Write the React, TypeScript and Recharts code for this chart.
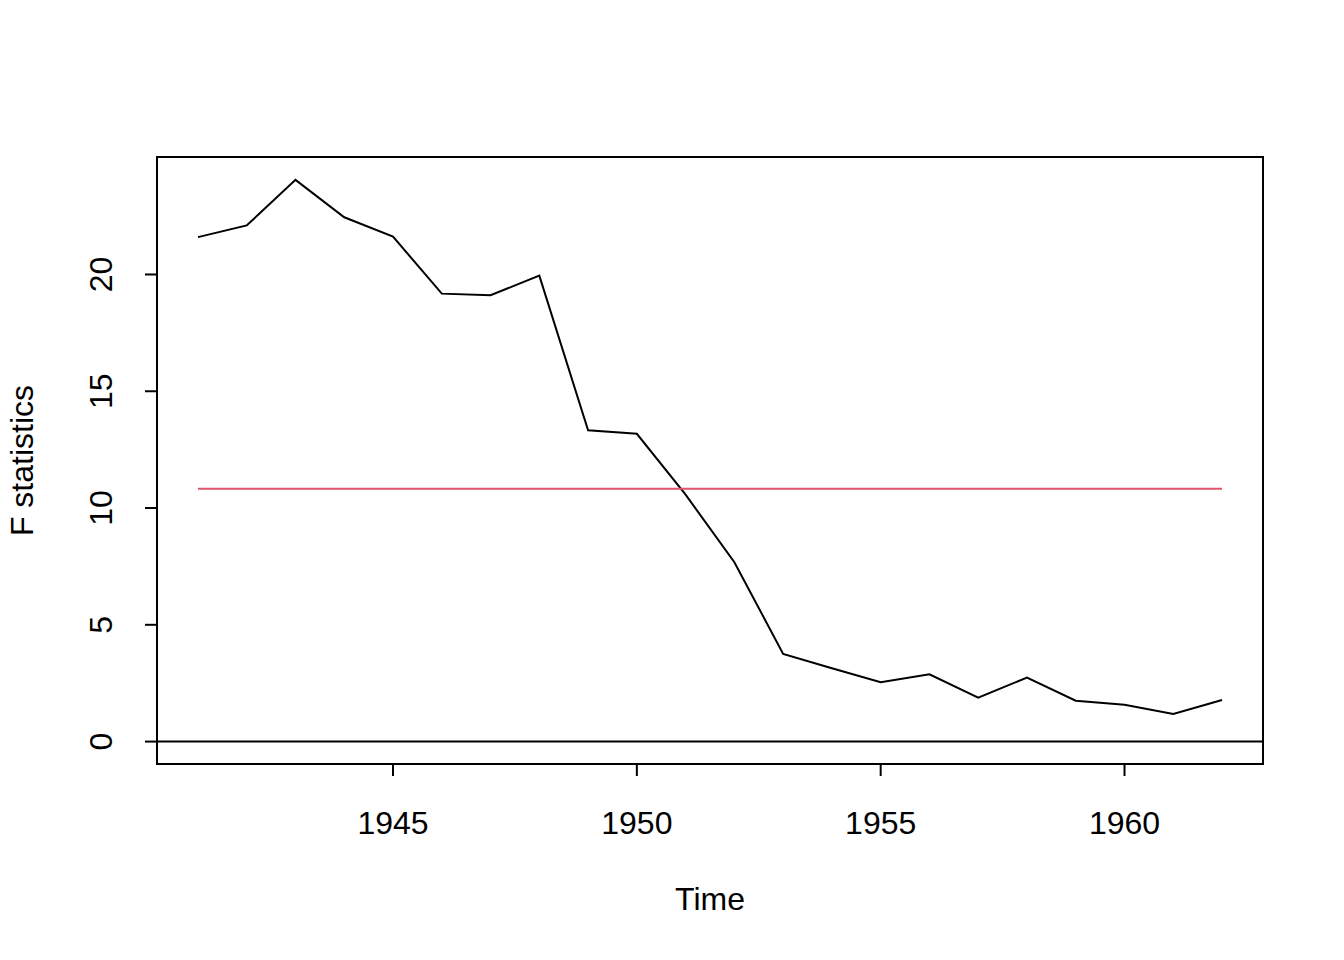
import React from "react";
import {
  LineChart,
  Line,
  XAxis,
  YAxis,
  ReferenceLine,
  ReferenceArea,
} from "recharts";

// F statistics by year
const years = [
  1941, 1942, 1943, 1944, 1945, 1946, 1947, 1948, 1949, 1950, 1951, 1952,
  1953, 1954, 1955, 1956, 1957, 1958, 1959, 1960, 1961, 1962,
];
const fStats = [
  21.6, 22.1, 24.05, 22.45, 21.62, 19.18, 19.11, 19.95, 13.33, 13.18, 10.57,
  7.68, 3.75, 3.14, 2.54, 2.88, 1.88, 2.74, 1.75, 1.58, 1.18, 1.78,
];
const critValue = 10.83;

const xTicks = [1945, 1950, 1955, 1960];
const yTicks = [0, 5, 10, 15, 20];
const xDomain = [1940.16, 1962.84];
const yDomain = [-0.96, 25.03];

const data = years.map((year, i) => ({
  year,
  f: fStats[i],
  crit: critValue,
}));

const FONT = '"Liberation Sans", Arial, Helvetica, sans-serif';
const FS = 32;

const YTick = ({ x, y, payload }: any) => (
  <text
    x={x}
    y={y}
    transform={`rotate(-90, ${x}, ${y})`}
    textAnchor="middle"
    fontFamily={FONT}
    fontSize={FS}
    fill="#000"
  >
    {payload.value}
  </text>
);

const XTick = ({ x, y, payload }: any) => (
  <text
    x={x}
    y={y}
    textAnchor="middle"
    fontFamily={FONT}
    fontSize={FS}
    fill="#000"
  >
    {payload.value}
  </text>
);

export default function App() {
  return (
    <div style={{ width: 1344, height: 960, background: "#fff" }}>
      <style>{`body{margin:0}`}</style>
      <LineChart
        width={1344}
        height={960}
        data={data}
        margin={{ top: 157, right: 81, bottom: 0, left: 0 }}
      >
        <XAxis
          dataKey="year"
          type="number"
          domain={xDomain}
          ticks={xTicks}
          allowDataOverflow
          height={196}
          axisLine={false}
          tickLine={{ stroke: "#000", strokeWidth: 2 }}
          tickSize={12}
          tickMargin={0}
          tick={(p: any) => <XTick {...p} y={834} />}
          label={({ viewBox }: any) => (
            <text
              x={viewBox.x + viewBox.width / 2}
              y={910}
              textAnchor="middle"
              fontFamily={FONT}
              fontSize={FS}
              fill="#000"
            >
              Time
            </text>
          )}
        />
        <YAxis
          type="number"
          domain={yDomain}
          ticks={yTicks}
          allowDataOverflow
          width={157}
          axisLine={false}
          tickLine={{ stroke: "#000", strokeWidth: 2 }}
          tickSize={12}
          tickMargin={0}
          tick={(p: any) => <YTick {...p} x={112} />}
          label={({ viewBox }: any) => {
            const cy = viewBox.y + viewBox.height / 2;
            return (
              <text
                x={33}
                y={cy}
                transform={`rotate(-90, 33, ${cy})`}
                textAnchor="middle"
                fontFamily={FONT}
                fontSize={FS}
                fill="#000"
              >
                F statistics
              </text>
            );
          }}
        />
        <ReferenceArea
          x1={xDomain[0]}
          x2={xDomain[1]}
          y1={yDomain[0]}
          y2={yDomain[1]}
          fill="none"
          stroke="#000"
          strokeWidth={2}
          ifOverflow="visible"
        />
        <ReferenceLine y={0} stroke="#000" strokeWidth={2} />
        <Line
          dataKey="f"
          stroke="#000"
          strokeWidth={2}
          dot={false}
          isAnimationActive={false}
        />
        <Line
          dataKey="crit"
          stroke="#DF536B"
          strokeWidth={2}
          dot={false}
          isAnimationActive={false}
        />
      </LineChart>
    </div>
  );
}
